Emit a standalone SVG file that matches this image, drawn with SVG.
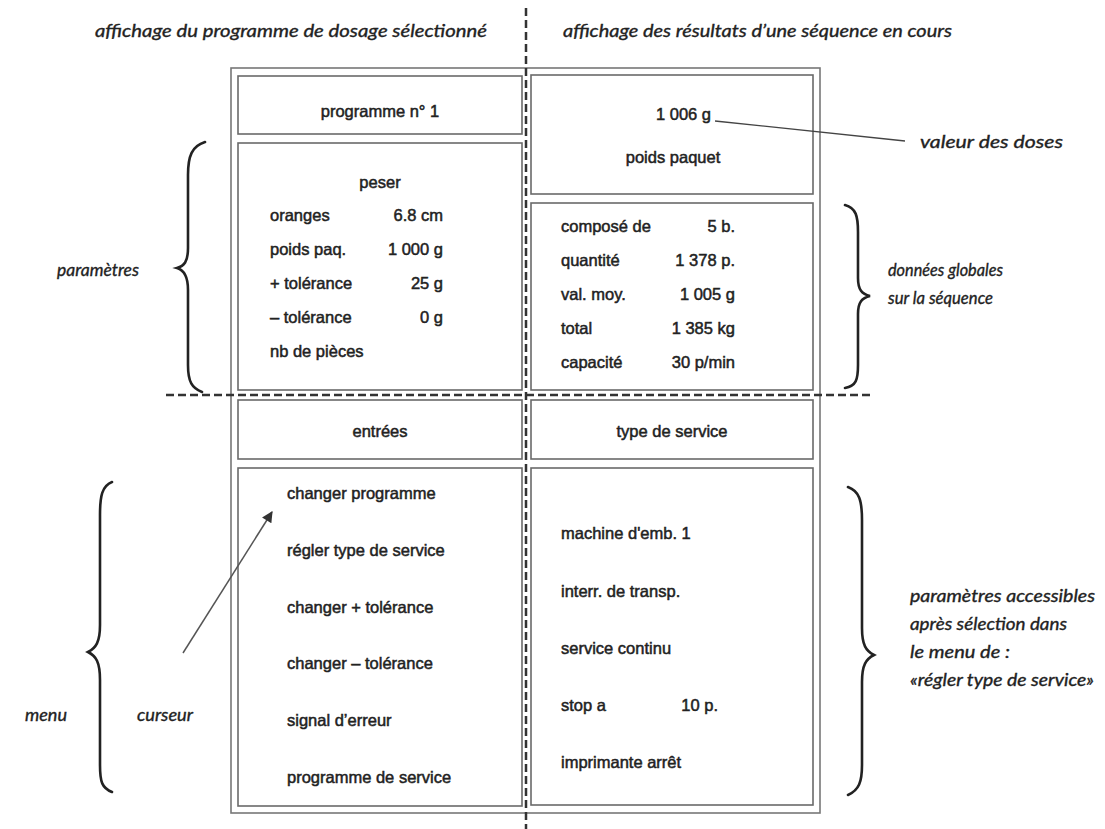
<svg xmlns="http://www.w3.org/2000/svg" width="1105" height="829" viewBox="0 0 1105 829">
<style>
.box{fill:none;stroke:#6a6a6a;stroke-width:1.6}
.frame{fill:none;stroke:#777;stroke-width:1.6}
.t{font-family:"Liberation Sans",Arial,sans-serif;font-size:16.5px;fill:#222;stroke:#222;stroke-width:0.5}
.c{text-anchor:middle}
.e{text-anchor:end}
.i{font-family:Lato,"Open Sans",sans-serif;font-style:italic;font-size:17.5px;fill:#222;stroke:#222;stroke-width:0.35}
.dash{fill:none;stroke:#333;stroke-width:2.5;stroke-dasharray:8 4}
.brace{fill:none;stroke:#222;stroke-width:2.6;stroke-linecap:round}
.lead{fill:none;stroke:#444;stroke-width:1.3}
</style>
<defs>
<marker id="arr" viewBox="0 0 10 10" refX="9" refY="5" markerWidth="13" markerHeight="11" orient="auto" markerUnits="userSpaceOnUse">
<path d="M0,0 L10,5 L0,10 z" fill="#333"/>
</marker>
</defs>
<rect width="1105" height="829" fill="#fff"/>

<g id="headers">
<text class="i" x="95" y="37" textLength="392" lengthAdjust="spacingAndGlyphs">affichage du programme de dosage sélectionné</text>
<text class="i" x="563" y="37" textLength="389" lengthAdjust="spacingAndGlyphs">affichage des résultats d’une séquence en cours</text>
</g>

<g id="frame">
<rect class="frame" x="231" y="68" width="589" height="745"/>
</g>

<g id="programme">
<rect class="box" x="238" y="76" width="284" height="58"/>
<text class="t c" x="380" y="117">programme n° 1</text>
</g>

<g id="parametres-box">
<rect class="box" x="238" y="143" width="284" height="247"/>
<text class="t c" x="380" y="188">peser</text>
<text class="t" x="270" y="221">oranges</text><text class="t e" x="443" y="221">6.8 cm</text>
<text class="t" x="270" y="255">poids paq.</text><text class="t e" x="443" y="255">1 000 g</text>
<text class="t" x="270" y="289">+ tolérance</text><text class="t e" x="443" y="289">25 g</text>
<text class="t" x="270" y="323">– tolérance</text><text class="t e" x="443" y="323">0 g</text>
<text class="t" x="270" y="357">nb de pièces</text>
</g>

<g id="poids-box">
<rect class="box" x="531" y="75" width="282" height="119"/>
<text class="t" x="656" y="120">1 006 g</text>
<text class="t c" x="673" y="163">poids paquet</text>
</g>

<g id="donnees-box">
<rect class="box" x="531" y="203" width="282" height="187"/>
<text class="t" x="561" y="232">composé de</text><text class="t e" x="735" y="232">5 b.</text>
<text class="t" x="561" y="266">quantité</text><text class="t e" x="735" y="266">1 378 p.</text>
<text class="t" x="561" y="300">val. moy.</text><text class="t e" x="735" y="300">1 005 g</text>
<text class="t" x="561" y="334">total</text><text class="t e" x="735" y="334">1 385 kg</text>
<text class="t" x="561" y="368">capacité</text><text class="t e" x="735" y="368">30 p/min</text>
</g>

<g id="entrees">
<rect class="box" x="238" y="400" width="284" height="59"/>
<text class="t c" x="380" y="437">entrées</text>
</g>

<g id="type-service">
<rect class="box" x="531" y="400" width="282" height="59"/>
<text class="t c" x="672" y="437">type de service</text>
</g>

<g id="menu-box">
<rect class="box" x="238" y="468" width="284" height="338"/>
<text class="t" x="287" y="499">changer programme</text>
<text class="t" x="287" y="556">régler type de service</text>
<text class="t" x="287" y="613">changer + tolérance</text>
<text class="t" x="287" y="669">changer – tolérance</text>
<text class="t" x="287" y="726">signal d’erreur</text>
<text class="t" x="287" y="783">programme de service</text>
</g>

<g id="service-box">
<rect class="box" x="531" y="468" width="282" height="337"/>
<text class="t" x="561" y="539">machine d'emb. 1</text>
<text class="t" x="561" y="597">interr. de transp.</text>
<text class="t" x="561" y="654">service continu</text>
<text class="t" x="561" y="711">stop a</text><text class="t e" x="718" y="711">10 p.</text>
<text class="t" x="561" y="768">imprimante arrêt</text>
</g>

<g id="annotations">
<text class="i" x="57" y="276" textLength="82" lengthAdjust="spacingAndGlyphs">paramètres</text>
<text class="i" x="888" y="276" textLength="115" lengthAdjust="spacingAndGlyphs">données globales</text>
<text class="i" x="888" y="304" textLength="105" lengthAdjust="spacingAndGlyphs">sur la séquence</text>
<text class="i" x="25" y="721" textLength="42" lengthAdjust="spacingAndGlyphs">menu</text>
<text class="i" x="137" y="721" textLength="56" lengthAdjust="spacingAndGlyphs">curseur</text>
<text class="i" x="920" y="148" textLength="143" lengthAdjust="spacingAndGlyphs">valeur des doses</text>
<text class="i" x="910" y="602" textLength="185" lengthAdjust="spacingAndGlyphs">paramètres accessibles</text>
<text class="i" x="910" y="630" textLength="157" lengthAdjust="spacingAndGlyphs">après sélection dans</text>
<text class="i" x="910" y="658" textLength="100" lengthAdjust="spacingAndGlyphs">le menu de :</text>
<text class="i" x="910" y="686" textLength="184" lengthAdjust="spacingAndGlyphs">«régler type de service»</text>
</g>

<g id="connectors">
<line class="dash" x1="526" y1="8" x2="526" y2="829"/>
<line class="dash" x1="166" y1="395" x2="874" y2="395"/>
<path class="brace" d="M205,142 C192,146 188,156 188,175 L188,248 C188,262 184,266 177,268 C184,270 188,276 188,290 L188,365 C188,382 192,388 202,392"/>
<path class="brace" d="M845,205 C856,208 858,216 858,232 L858,278 C858,290 862,294 870,296 C862,298 858,302 858,314 L858,365 C858,380 856,386 845,388"/>
<path class="brace" d="M112,482 C102,486 100,496 100,515 L100,625 C100,642 96,648 88,652 C96,656 100,662 100,680 L100,765 C100,782 102,788 112,792"/>
<path class="brace" d="M848,487 C859,491 862,500 862,520 L862,628 C862,645 866,651 874,655 C866,659 862,665 862,682 L862,765 C862,782 859,790 848,795"/>
<line class="lead" x1="715" y1="121" x2="905" y2="141"/>
<line x1="183" y1="653" x2="272" y2="512" stroke="#555" stroke-width="1.5" marker-end="url(#arr)"/>
</g>
</svg>
